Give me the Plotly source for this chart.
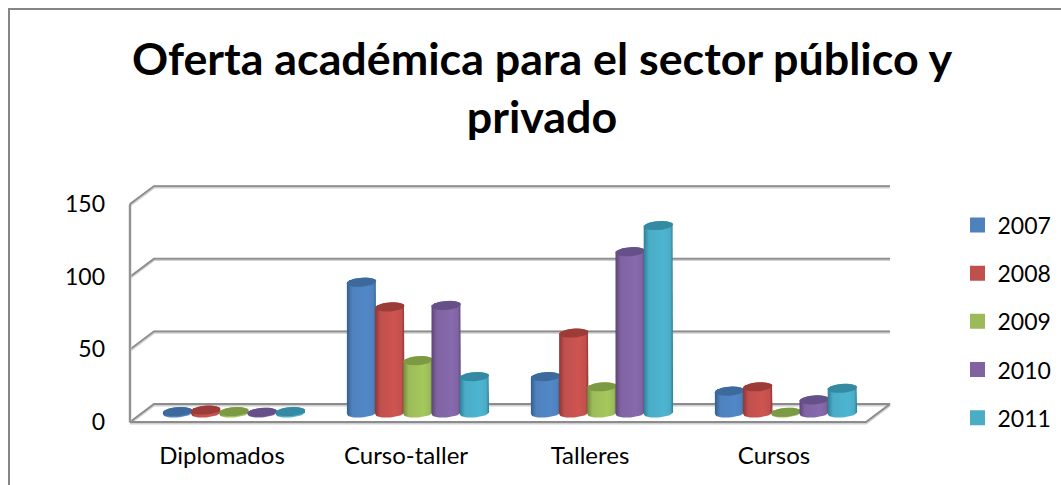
import math
import plotly.graph_objects as go

# ---- data ----
categories = ["Diplomados", "Curso-taller", "Talleres", "Cursos"]
years = ["2007", "2008", "2009", "2010", "2011"]
v2007 = [1, 90, 25, 15]
v2008 = [2, 73, 55, 18]
v2009 = [1, 36, 18, 0.5]
v2010 = [0.5, 74, 111, 9]
v2011 = [1, 25, 129, 17]
series = [v2007, v2008, v2009, v2010, v2011]
grid_values = [0, 50, 100, 150]

# ---- styles ----
base = ["#4f81bd", "#c0504d", "#9bbb59", "#8064a2", "#4bacc6"]
light = ["#5288c8", "#cf5450", "#a5c95d", "#8769ad", "#4db5d1"]
dark = ["#325f92", "#8f3533", "#718c3c", "#5c4579", "#2d7f95"]
cap = ["#3d6a9c", "#9c3c39", "#7c9a43", "#66508a", "#338aa2"]
GRID = "#8c8c8c"
GRID_SOFT = "#cfcfcf"

# plot area in page pixels
L, R, T, B = 106, 895, 170, 439
W, H = 1061, 485
PX_X = 184.0       # pixels per category
PX_Y = 1.453       # pixels per value unit
Y0_PX = 413.0      # pixel row of value 0 in the plane of the bars
DX = 24 / PX_X     # chart depth in x units
DY = 18 / PX_Y     # chart depth in y units
px_x = lambda p: (p - 222.0) / PX_X
px_y = lambda p: (Y0_PX - p) / PX_Y

step = 28.2 / PX_X
a = 14.7 / PX_X
b = 4.5 / PX_Y
tilt = 0.07 * PX_X / PX_Y

def ell(cx, cy, t):
    return cx + a * math.cos(t), cy + b * math.sin(t) + tilt * a * math.cos(t)

fig = go.Figure()

def line(xs, ys):
    for color, width, shift in ((GRID_SOFT, 3, -0.9 / PX_Y), (GRID, 1.8, 0)):
        fig.add_trace(go.Scatter(x=xs, y=[y + shift for y in ys], mode="lines",
                                 line=dict(color=color, width=width),
                                 showlegend=False, hoverinfo="skip"))

# walls and floor: front plane is half a depth below the bars, back wall half a depth above
x_left, x_right = -0.5, len(categories) - 0.5
for g in grid_values:
    line([x_left, x_left + DX, x_right + DX], [g - DY / 2, g + DY / 2, g + DY / 2])
line([x_left, x_left], [grid_values[0] - DY / 2, grid_values[-1] - DY / 2])
line([x_left, x_right, x_right + DX], [-DY / 2, -DY / 2, DY / 2])

# underlying bars, which also feed the legend
for j, (year, vals) in enumerate(zip(years, series)):
    fig.add_trace(go.Bar(
        x=[i + DX / 2 + (j - 2) * step for i in range(len(categories))],
        y=vals, width=2 * a - 8 / PX_X, name=year, legendgroup=year,
        marker=dict(color=base[j], line=dict(color=base[j], width=3)),
        hoverinfo="skip"))

# cylinder bodies and caps on top of the bars
N = 24
for j, vals in enumerate(series):
    for i, v in enumerate(vals):
        cx = i + DX / 2 + (j - 2) * step
        pts = [ell(cx, 0, -math.pi + math.pi * k / N) for k in range(N + 1)]
        pts += [ell(cx, v, math.pi * k / N) for k in range(N + 1)]
        fig.add_trace(go.Scatter(
            x=[p[0] for p in pts] + [pts[0][0]], y=[p[1] for p in pts] + [pts[0][1]],
            mode="lines", line=dict(width=0), fill="toself",
            fillgradient=dict(type="horizontal", colorscale=[
                [0, dark[j]], [0.18, base[j]], [0.68, light[j]], [0.9, base[j]], [1, dark[j]]]),
            showlegend=False, hoverinfo="skip"))
        top = [ell(cx, v, 2 * math.pi * k / N) for k in range(N + 1)]
        fig.add_trace(go.Scatter(
            x=[p[0] for p in top], y=[p[1] for p in top],
            mode="lines", line=dict(width=0), fill="toself", fillcolor=cap[j],
            showlegend=False, hoverinfo="skip"))

# chart frame (runs off the page on the right and at the bottom)
fx = lambda p: (p - L) / (R - L)
fy = lambda p: (B - p) / (B - T)
fig.add_shape(type="rect", xref="paper", yref="paper",
              x0=fx(9), x1=fx(W + 20), y0=fy(H + 20), y1=fy(9),
              line=dict(color="#868686", width=2), layer="below")

FONT = "Lato, Carlito, Calibri, sans-serif"
fig.update_layout(
    width=W, height=H,
    margin=dict(l=L, r=W - R, t=T, b=H - B, pad=0, autoexpand=False),
    paper_bgcolor="white", plot_bgcolor="white",
    barmode="overlay",
    font=dict(family=FONT, color="black"),
    title=dict(text="Oferta académica para el sector público y<br>privado",
               font=dict(family=FONT, size=44.8, color="black", weight="bold"),
               x=542 / W, xanchor="center", xref="container",
               y=1 - 75 / H, yanchor="top", yref="container"),
    xaxis=dict(range=[px_x(L), px_x(R)], showgrid=False, zeroline=False, showline=False,
               tickmode="array", tickvals=list(range(len(categories))), ticktext=categories,
               ticks="", tickfont=dict(size=24, family=FONT)),
    yaxis=dict(range=[px_y(B), px_y(T)], showgrid=False, zeroline=False, showline=False,
               tickmode="array", tickvals=[g - DY / 2 for g in grid_values],
               ticktext=[str(g) for g in grid_values],
               ticks="", tickfont=dict(size=23, family=FONT)),
    legend=dict(x=fx(957.5), xanchor="left", y=fy(203.5), yanchor="top",
                traceorder="grouped", tracegroupgap=15.3,
                font=dict(size=23, family=FONT), bgcolor="rgba(0,0,0,0)", borderwidth=0),
    bargap=0,
)

fig.write_html("out.html", config=dict(displayModeBar=False),
               post_script="document.body.style.margin='0';document.documentElement.style.overflow='hidden';")
